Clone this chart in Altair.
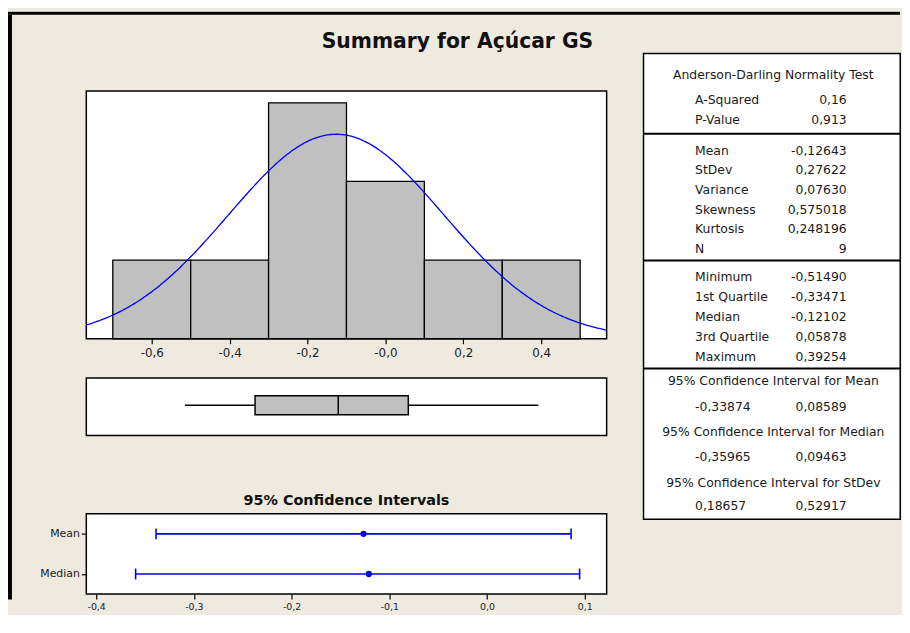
import altair as alt
import pandas as pd

# ---------------- data ----------------
main_title = "Summary for Açúcar GS"

hist_bin_start = [-0.7, -0.5, -0.3, -0.1, 0.1, 0.3]
hist_bin_end = [-0.5, -0.3, -0.1, 0.1, 0.3, 0.5]
hist_counts = [1, 1, 3, 2, 1, 1]
hist_ticks = [-0.6, -0.4, -0.2, 0.0, 0.2, 0.4]
hist_tick_labels = ["-0,6", "-0,4", "-0,2", "-0,0", "0,2", "0,4"]

n_obs = 9
mean_val = -0.12643
stdev_val = 0.27622

box_stats = {"lo": -0.51490, "q1": -0.33471, "med": -0.12102, "q3": 0.05878, "hi": 0.39254}

ci_names = ["Mean", "Median"]
ci_est = [-0.12643, -0.12102]
ci_low = [-0.33874, -0.35965]
ci_high = [0.08589, 0.09463]
ci_ticks = [-0.4, -0.3, -0.2, -0.1, 0.0, 0.1]
ci_tick_labels = ["-0,4", "-0,3", "-0,2", "-0,1", "0,0", "0,1"]

ad_header = "Anderson-Darling Normality Test"
ad_labels = ["A-Squared", "P-Value"]
ad_values = ["0,16", "0,913"]
moment_labels = ["Mean", "StDev", "Variance", "Skewness", "Kurtosis", "N"]
moment_values = ["-0,12643", "0,27622", "0,07630", "0,575018", "0,248196", "9"]
quant_labels = ["Minimum", "1st Quartile", "Median", "3rd Quartile", "Maximum"]
quant_values = ["-0,51490", "-0,33471", "-0,12102", "0,05878", "0,39254"]
ci_headers = ["95% Confidence Interval for Mean",
              "95% Confidence Interval for Median",
              "95% Confidence Interval for StDev"]
ci_low_text = ["-0,33874", "-0,35965", "0,18657"]
ci_high_text = ["0,08589", "0,09463", "0,52917"]

# ---------------- layout / style ----------------
BG = "#EEEAE0"
GRAY = "#C0C0C0"
BLUE = "#0000FF"
TXT = "#1a1a1a"
FONT = "DejaVu Sans"
BIN_W = 0.2

PLOT_W = 525
HIST_H = 250
BOX_H = 58
CI_H = 81
TAB_W = 259
TAB_H = 470

FRAME = alt.ViewBackground(fill="white", stroke="black", strokeWidth=1.5, strokeOpacity=1)


def label_expr(ticks, labels):
    expr = "''"
    for t, lab in zip(ticks, labels):
        expr = f"abs(datum.value - ({t})) < 1e-6 ? '{lab}' : ({expr})"
    return expr


def blank(w, h, fill="transparent"):
    return alt.Chart(alt.Data(values=[{"a": 0}])).mark_rect(opacity=0).encode(
        x=alt.value(0), x2=alt.value(w), y=alt.value(0), y2=alt.value(h)
    ).properties(width=w, height=h,
                 view=alt.ViewBackground(fill=fill, stroke="transparent",
                                         strokeWidth=0, strokeOpacity=0))


# ---------------- histogram ----------------
X_HIST = alt.Scale(domain=[-0.768, 0.568], nice=False, zero=False)
Y_HIST = alt.Scale(domain=[0, 3.15], nice=False, zero=False)
hist_axis = alt.Axis(values=hist_ticks, labelExpr=label_expr(hist_ticks, hist_tick_labels),
                     title=None, grid=False, domain=False, ticks=True, tickSize=5,
                     tickColor="black", tickWidth=1.2, labelFont=FONT, labelFontSize=12,
                     labelColor=TXT, labelPadding=4)

hist_df = pd.DataFrame({"start": hist_bin_start, "end": hist_bin_end, "count": hist_counts})
bars = alt.Chart(hist_df).mark_rect(fill=GRAY, stroke="black", strokeWidth=1.3).encode(
    x=alt.X("start:Q", scale=X_HIST, axis=hist_axis),
    x2="end:Q",
    y=alt.Y("count:Q", scale=Y_HIST, axis=None),
    y2=alt.datum(0),
)
curve = alt.Chart(alt.sequence(-0.768, 0.5685, 0.004, as_="v")).transform_calculate(
    dens=f"densityNormal(datum.v, {mean_val}, {stdev_val}) * {n_obs} * {BIN_W}"
).mark_line(color=BLUE, strokeWidth=1.3, clip=True).encode(
    x=alt.X("v:Q", scale=X_HIST, axis=hist_axis),
    y=alt.Y("dens:Q", scale=Y_HIST, axis=None),
)
hist = alt.layer(bars, curve).properties(
    width=PLOT_W, height=HIST_H, view=FRAME,
    title=alt.TitleParams(main_title, font=FONT, fontSize=20.5, fontWeight="bold",
                          color="#111111", anchor="middle", frame="group", dx=112,
                          baseline="top", offset=38.5),
)

# ---------------- boxplot ----------------
box_df = pd.DataFrame([box_stats])
whisker = alt.Chart(box_df).mark_rule(color="black", strokeWidth=1.3).encode(
    x=alt.X("lo:Q", scale=X_HIST, axis=None), x2="hi:Q", y=alt.value(27.5))
box = alt.Chart(box_df).mark_rect(fill=GRAY, stroke="black", strokeWidth=1.5).encode(
    x=alt.X("q1:Q", scale=X_HIST, axis=None), x2="q3:Q",
    y=alt.value(18), y2=alt.value(37))
med = alt.Chart(box_df).mark_rule(color="black", strokeWidth=1.5).encode(
    x=alt.X("med:Q", scale=X_HIST, axis=None), y=alt.value(18), y2=alt.value(37))
boxplot = alt.layer(whisker, box, med).properties(width=PLOT_W, height=BOX_H, view=FRAME)

# ---------------- confidence intervals ----------------
X_CI = alt.Scale(domain=[-0.4101, 0.1223], nice=False, zero=False)
ci_axis = alt.Axis(values=ci_ticks, labelExpr=label_expr(ci_ticks, ci_tick_labels),
                   title=None, grid=False, domain=False, tickSize=5, tickColor="black",
                   tickWidth=1.2, labelFont=FONT, labelFontSize=9.5, labelColor=TXT,
                   labelPadding=3)
Y_CI = alt.Y("name:N", sort=ci_names, scale=alt.Scale(type="point", padding=0.5),
             axis=alt.Axis(title=None, domain=False, tickSize=5, tickColor="black",
                           tickWidth=1.2, labelFont=FONT, labelFontSize=11,
                           labelColor=TXT, labelPadding=2))
ci_df = pd.DataFrame({"name": ci_names, "est": ci_est, "lo": ci_low, "hi": ci_high})
ci_rule = alt.Chart(ci_df).mark_rule(color=BLUE, strokeWidth=1.6).encode(
    x=alt.X("lo:Q", scale=X_CI, axis=ci_axis), x2="hi:Q", y=Y_CI)
ci_cap_lo = alt.Chart(ci_df).mark_tick(orient="vertical", size=11, thickness=1.6, color=BLUE,
                                       opacity=1).encode(
    x=alt.X("lo:Q", scale=X_CI, axis=ci_axis), y=Y_CI)
ci_cap_hi = alt.Chart(ci_df).mark_tick(orient="vertical", size=11, thickness=1.6, color=BLUE,
                                       opacity=1).encode(
    x=alt.X("hi:Q", scale=X_CI, axis=ci_axis), y=Y_CI)
ci_pt = alt.Chart(ci_df).mark_point(filled=True, size=40, color=BLUE, opacity=1).encode(
    x=alt.X("est:Q", scale=X_CI, axis=ci_axis), y=Y_CI)
ci = alt.layer(ci_rule, ci_cap_lo, ci_cap_hi, ci_pt).properties(
    width=PLOT_W, height=CI_H, view=FRAME,
    title=alt.TitleParams("95% Confidence Intervals", font=FONT, fontSize=14.5,
                          fontWeight="bold", color="#111111", anchor="middle",
                          frame="group", baseline="top", offset=5.5),
)

# ---------------- statistics table ----------------
slot_header = 22
slots_ad = [47, 67]
slots_moment = [98, 118, 138, 158, 177, 197]
slots_quant = [226, 246, 266, 286, 306]
slots_ci_head = [331, 382, 433]
slots_ci_val = [357, 407, 457]
slots_div = [81, 209, 318]

rows = [{"text": ad_header, "slot": slot_header, "kind": "center"}]
for lab, val, s in zip(ad_labels + moment_labels + quant_labels,
                       ad_values + moment_values + quant_values,
                       slots_ad + slots_moment + slots_quant):
    rows.append({"text": lab, "slot": s, "kind": "left"})
    rows.append({"text": val, "slot": s, "kind": "right"})
for head, lo, hi, sh, sv in zip(ci_headers, ci_low_text, ci_high_text, slots_ci_head, slots_ci_val):
    rows.append({"text": head, "slot": sh, "kind": "center"})
    rows.append({"text": lo, "slot": sv, "kind": "left"})
    rows.append({"text": hi, "slot": sv, "kind": "right"})
tab_df = pd.DataFrame(rows)
div_df = pd.DataFrame({"slot": slots_div})

Y_TAB = alt.Y("slot:Q", scale=alt.Scale(domain=[0, TAB_H], reverse=True, nice=False, zero=False),
              axis=None)
tab_base = alt.Chart(tab_df)
t_left = tab_base.transform_filter("datum.kind == 'left'").mark_text(
    align="left", baseline="middle", font=FONT, fontSize=12.5, color=TXT).encode(
    text="text:N", x=alt.value(52), y=Y_TAB)
t_right = tab_base.transform_filter("datum.kind == 'right'").mark_text(
    align="right", baseline="middle", font=FONT, fontSize=12.5, color=TXT).encode(
    text="text:N", x=alt.value(205), y=Y_TAB)
t_center = tab_base.transform_filter("datum.kind == 'center'").mark_text(
    align="center", baseline="middle", font=FONT, fontSize=12.5, color=TXT).encode(
    text="text:N", x=alt.value(131), y=Y_TAB)
t_div = alt.Chart(div_df).mark_rule(color="black", strokeWidth=2).encode(
    y=Y_TAB, x=alt.value(0), x2=alt.value(TAB_W))
table = alt.layer(t_div, t_left, t_right, t_center).properties(
    width=TAB_W, height=TAB_H, view=FRAME)

# ---------------- page frame ----------------
strip = blank(900, 1, "white")
top_border = blank(900, 3, "black")
left_border = blank(4, 590, "black")

head = alt.vconcat(blank(1, 1), hist, spacing=16)
upper = alt.vconcat(head, boxplot, spacing=17.6)
left_col = alt.vconcat(upper, ci, spacing=55.6)
table_col = alt.vconcat(blank(1, 1), table, spacing=37.1)
inner = alt.hconcat(left_col, table_col, spacing=34.2)
main = alt.hconcat(left_border, inner, spacing=27)

chart = alt.vconcat(strip, top_border, main, spacing=0).properties(
    padding=0, background=BG
).configure(font=FONT).configure_view(stroke="transparent", strokeWidth=0)

chart.save("out.html", embed_options={"renderer": "svg", "actions": False})
